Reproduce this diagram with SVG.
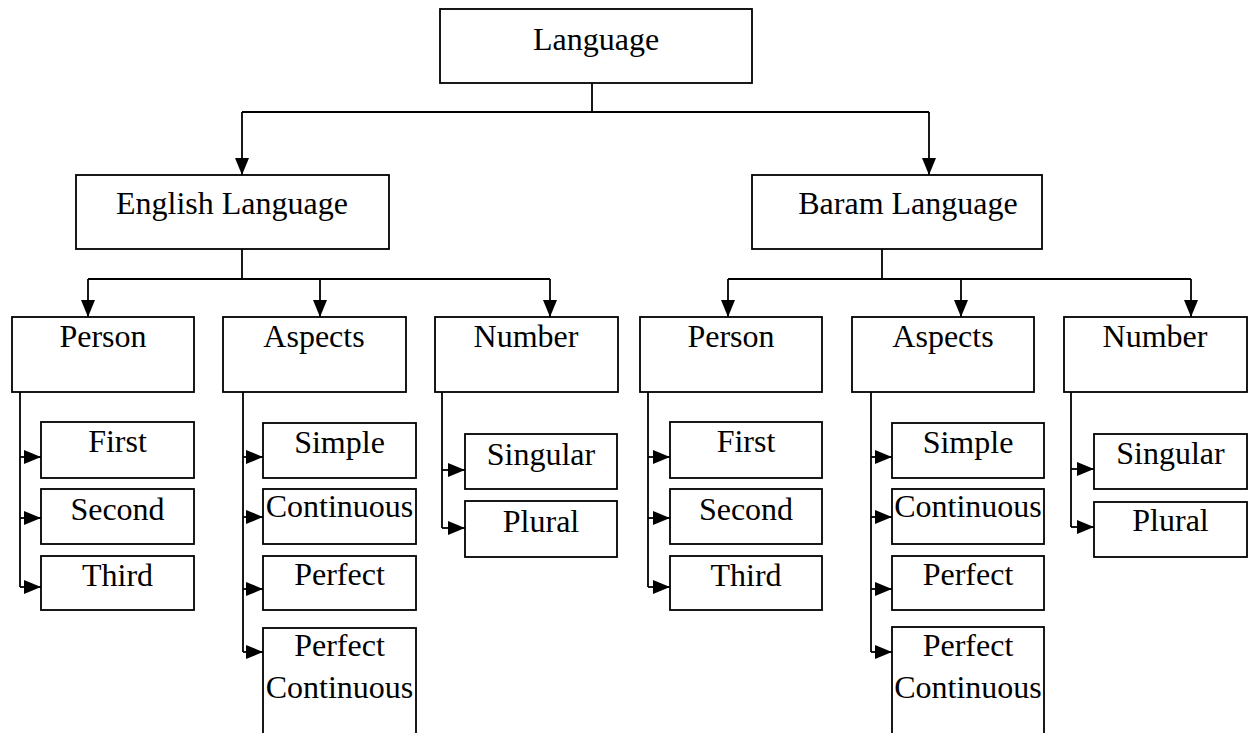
<svg xmlns="http://www.w3.org/2000/svg" width="1253" height="733" viewBox="0 0 1253 733">
<style>
.box{fill:#fff;stroke:#000;stroke-width:1.8}
.ln{fill:none;stroke:#000;stroke-width:1.8}
text{font-family:"Liberation Serif","Times New Roman",serif;font-size:32px;fill:#000;text-anchor:middle}
</style>
<defs>
<marker id="ah" viewBox="0 0 17 14" refX="17" refY="7" markerWidth="17" markerHeight="14" markerUnits="userSpaceOnUse" orient="auto"><path d="M0,0 L17,7 L0,14 z" fill="#000"/></marker>
</defs>
<rect width="1253" height="733" fill="#fff"/>
<g id="connectors">
<path class="ln" d="M592,83 V112 M242,112 H929"/>
<path class="ln" d="M242,112 V175" marker-end="url(#ah)"/>
<path class="ln" d="M929,112 V175" marker-end="url(#ah)"/>
<path class="ln" d="M242,249 V279 M88,279 H550"/>
<path class="ln" d="M88,279 V317" marker-end="url(#ah)"/>
<path class="ln" d="M320,279 V317" marker-end="url(#ah)"/>
<path class="ln" d="M550,279 V317" marker-end="url(#ah)"/>
<path class="ln" d="M882,249 V279 M728,279 H1191"/>
<path class="ln" d="M728,279 V317" marker-end="url(#ah)"/>
<path class="ln" d="M961,279 V317" marker-end="url(#ah)"/>
<path class="ln" d="M1191,279 V317" marker-end="url(#ah)"/>
<path class="ln" d="M20,392 V587"/>
<path class="ln" d="M20,457 H41" marker-end="url(#ah)"/>
<path class="ln" d="M20,518 H41" marker-end="url(#ah)"/>
<path class="ln" d="M20,587 H41" marker-end="url(#ah)"/>
<path class="ln" d="M243,392 V652"/>
<path class="ln" d="M243,457 H263" marker-end="url(#ah)"/>
<path class="ln" d="M243,517 H263" marker-end="url(#ah)"/>
<path class="ln" d="M243,589 H263" marker-end="url(#ah)"/>
<path class="ln" d="M243,652 H263" marker-end="url(#ah)"/>
<path class="ln" d="M442,392 V528"/>
<path class="ln" d="M442,470 H465" marker-end="url(#ah)"/>
<path class="ln" d="M442,528 H465" marker-end="url(#ah)"/>
<path class="ln" d="M648,392 V587"/>
<path class="ln" d="M648,457 H670" marker-end="url(#ah)"/>
<path class="ln" d="M648,518 H670" marker-end="url(#ah)"/>
<path class="ln" d="M648,587 H670" marker-end="url(#ah)"/>
<path class="ln" d="M871,392 V652"/>
<path class="ln" d="M871,457 H892" marker-end="url(#ah)"/>
<path class="ln" d="M871,517 H892" marker-end="url(#ah)"/>
<path class="ln" d="M871,589 H892" marker-end="url(#ah)"/>
<path class="ln" d="M871,652 H892" marker-end="url(#ah)"/>
<path class="ln" d="M1071,392 V527"/>
<path class="ln" d="M1071,469 H1094" marker-end="url(#ah)"/>
<path class="ln" d="M1071,527 H1094" marker-end="url(#ah)"/>
</g>
<g id="language"><rect class="box" x="440" y="9" width="312" height="74"/><text x="596" y="50">Language</text></g>
<g id="english"><rect class="box" x="76" y="175" width="313" height="74"/><text x="232" y="214">English Language</text></g>
<g id="baram"><rect class="box" x="752" y="175" width="290" height="74"/><text x="908" y="214">Baram Language</text></g>
<g id="e-person"><rect class="box" x="12" y="317" width="182" height="75"/><text x="103" y="347">Person</text></g>
<g id="e-aspects"><rect class="box" x="223" y="317" width="183" height="75"/><text x="314" y="347">Aspects</text></g>
<g id="e-number"><rect class="box" x="435" y="317" width="183" height="75"/><text x="526" y="347">Number</text></g>
<g id="b-person"><rect class="box" x="640" y="317" width="182" height="75"/><text x="731" y="347">Person</text></g>
<g id="b-aspects"><rect class="box" x="852" y="317" width="182" height="75"/><text x="943" y="347">Aspects</text></g>
<g id="b-number"><rect class="box" x="1064" y="317" width="183" height="75"/><text x="1155" y="347">Number</text></g>
<g id="e-first"><rect class="box" x="41" y="422" width="153" height="56"/><text x="117.5" y="452">First</text></g>
<g id="e-second"><rect class="box" x="41" y="489" width="153" height="55"/><text x="117.5" y="520">Second</text></g>
<g id="e-third"><rect class="box" x="41" y="556" width="153" height="54"/><text x="117.5" y="586">Third</text></g>
<g id="e-simple"><rect class="box" x="263" y="423" width="153" height="55"/><text x="339.5" y="453">Simple</text></g>
<g id="e-continuous"><rect class="box" x="263" y="489" width="153" height="55"/><text x="339.5" y="517">Continuous</text></g>
<g id="e-perfect"><rect class="box" x="263" y="556" width="153" height="54"/><text x="339.5" y="585">Perfect</text></g>
<g id="e-perfcont"><rect class="box" x="263" y="628" width="153" height="120"/><text x="339.5" y="656">Perfect</text><text x="339.5" y="698">Continuous</text></g>
<g id="e-singular"><rect class="box" x="465" y="434" width="152" height="55"/><text x="541" y="465">Singular</text></g>
<g id="e-plural"><rect class="box" x="465" y="501" width="152" height="56"/><text x="541" y="532">Plural</text></g>
<g id="b-first"><rect class="box" x="670" y="422" width="152" height="56"/><text x="746" y="452">First</text></g>
<g id="b-second"><rect class="box" x="670" y="489" width="152" height="55"/><text x="746" y="520">Second</text></g>
<g id="b-third"><rect class="box" x="670" y="556" width="152" height="54"/><text x="746" y="586">Third</text></g>
<g id="b-simple"><rect class="box" x="892" y="423" width="152" height="55"/><text x="968" y="453">Simple</text></g>
<g id="b-continuous"><rect class="box" x="892" y="489" width="152" height="55"/><text x="968" y="517">Continuous</text></g>
<g id="b-perfect"><rect class="box" x="892" y="556" width="152" height="54"/><text x="968" y="585">Perfect</text></g>
<g id="b-perfcont"><rect class="box" x="892" y="627" width="152" height="120"/><text x="968" y="656">Perfect</text><text x="968" y="698">Continuous</text></g>
<g id="b-singular"><rect class="box" x="1094" y="434" width="153" height="55"/><text x="1170.5" y="464">Singular</text></g>
<g id="b-plural"><rect class="box" x="1094" y="502" width="153" height="55"/><text x="1170.5" y="531">Plural</text></g>
</svg>
